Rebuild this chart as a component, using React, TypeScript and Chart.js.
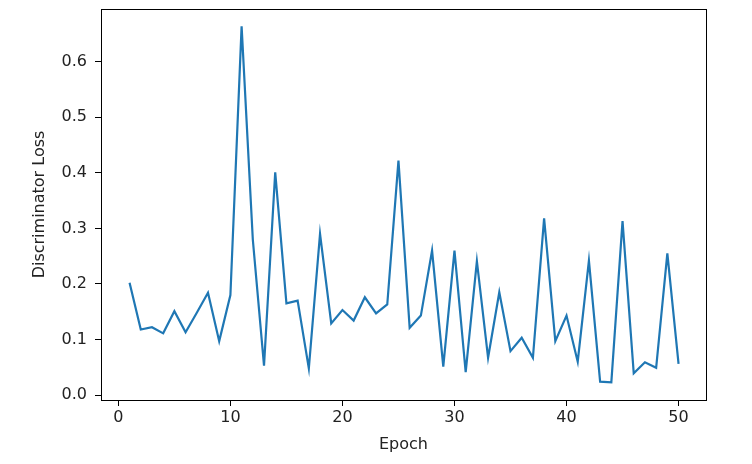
import React, { useEffect, useRef } from "react";
import { Chart, registerables } from "chart.js";

Chart.register(...registerables);

const epochs: number[] = Array.from({ length: 50 }, (_, i) => i + 1);
const lossValues: number[] = [
  0.202, 0.118, 0.122, 0.111, 0.151, 0.113, 0.148, 0.184, 0.097, 0.180,
  0.664, 0.280, 0.053, 0.401, 0.165, 0.170, 0.048, 0.290, 0.129, 0.153,
  0.134, 0.176, 0.147, 0.163, 0.422, 0.121, 0.143, 0.260, 0.051, 0.260,
  0.041, 0.241, 0.067, 0.185, 0.079, 0.103, 0.067, 0.318, 0.097, 0.143,
  0.060, 0.242, 0.024, 0.023, 0.313, 0.039, 0.059, 0.049, 0.255, 0.056,
];
const xTicks: number[] = [0, 10, 20, 30, 40, 50];
const yTicks: number[] = [0.0, 0.1, 0.2, 0.3, 0.4, 0.5, 0.6];
const xLabel = "Epoch";
const yLabel = "Discriminator Loss";

const FONT = "'DejaVu Sans', sans-serif";

const framePlugin = {
  id: "frame",
  afterDatasetsDraw(chart: any) {
    const { ctx, chartArea } = chart;
    ctx.save();
    ctx.strokeStyle = "#000";
    ctx.lineWidth = 1;
    ctx.strokeRect(
      Math.round(chartArea.left) + 0.5,
      Math.round(chartArea.top) + 0.5,
      Math.round(chartArea.right - chartArea.left),
      Math.round(chartArea.bottom - chartArea.top)
    );
    ctx.restore();
  },
};

export default function App() {
  const ref = useRef<HTMLCanvasElement | null>(null);
  useEffect(() => {
    if (!ref.current) return;
    const xMin = 1 - 49 * 0.05 - 0.1;
    const xMax = 50 + 49 * 0.05;
    const chart = new Chart(ref.current, {
      type: "line",
      data: {
        datasets: [
          {
            data: epochs.map((e, i) => ({ x: e, y: lossValues[i] })),
            borderColor: "#1f77b4",
            borderWidth: 2.2,
            pointRadius: 0,
            tension: 0,
            fill: false,
          },
        ],
      },
      options: {
        animation: false,
        responsive: false,
        maintainAspectRatio: false,
        layout: { padding: { left: 0, top: 9, right: 46, bottom: 0 } },
        plugins: { legend: { display: false }, tooltip: { enabled: false } },
        scales: {
          x: {
            type: "linear",
            min: xMin,
            max: xMax,
            afterFit: (s: any) => {
              s.height = 64;
              s.paddingLeft = 0;
              s.paddingRight = 0;
            },
            afterBuildTicks: (s: any) => {
              s.ticks = xTicks.map((v) => ({ value: v }));
            },
            grid: {
              drawOnChartArea: false,
              drawTicks: true,
              tickLength: 6,
              tickColor: "#000",
            },
            border: { display: true, color: "#000", width: 1 },
            ticks: {
              padding: 2,
              color: "#222",
              font: { family: FONT, size: 16 },
              maxRotation: 0,
              callback: (v: any) => String(v),
            },
            title: {
              display: true,
              text: xLabel,
              color: "#222",
              font: { family: FONT, size: 16 },
              padding: { top: 0, bottom: 10 },
            },
          },
          y: {
            type: "linear",
            min: -0.009,
            max: 0.695,
            afterFit: (s: any) => {
              s.width = 101;
              s.paddingTop = 0;
              s.paddingBottom = 0;
            },
            afterBuildTicks: (s: any) => {
              s.ticks = yTicks.map((v) => ({ value: v }));
            },
            grid: {
              drawOnChartArea: false,
              drawTicks: true,
              tickLength: 6,
              tickColor: "#000",
            },
            border: { display: true, color: "#000", width: 1 },
            ticks: {
              padding: 8,
              color: "#222",
              font: { family: FONT, size: 16 },
              callback: (v: any) => Number(v).toFixed(1),
            },
            title: {
              display: true,
              text: yLabel,
              color: "#222",
              font: { family: FONT, size: 16 },
              padding: { top: 30, bottom: 0 },
            },
          },
        },
      },
      plugins: [framePlugin],
    });
    return () => chart.destroy();
  }, []);
  return (
    <div style={{ position: "fixed", left: 0, top: 0, width: 752, height: 464, background: "#fff" }}>
      <canvas ref={ref} width={752} height={464} style={{ width: 752, height: 464 }} />
    </div>
  );
}
